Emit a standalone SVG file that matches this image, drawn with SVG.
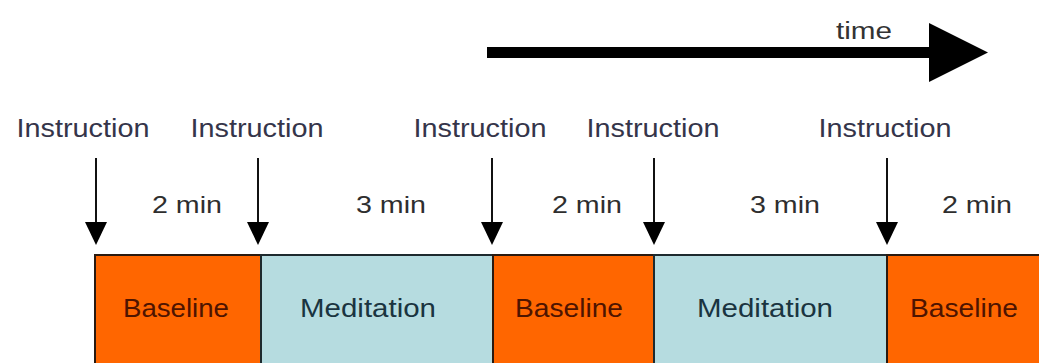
<svg xmlns="http://www.w3.org/2000/svg" width="1039" height="363" viewBox="0 0 1039 363">
  <style>
    text { font-family: "Liberation Sans", Arial, sans-serif; text-anchor: middle; }
    .instr { font-size: 25px; fill: #35354a; }
    .dur { font-size: 24px; fill: #2e2e2e; }
    .lbl { font-size: 25px; }
    .base rect { fill: #FF6600; stroke: #2a1a10; stroke-width: 2; }
    .med rect { fill: #B6DCE0; stroke: #1e2a2e; stroke-width: 2; }
    .base text { fill: #4e1400; }
    .med text { fill: #1a3440; }
    .down { stroke: #111111; stroke-width: 2; fill: none; marker-end: url(#dhead); }
  </style>
  <defs>
    <marker id="dhead" markerUnits="userSpaceOnUse" markerWidth="23" markerHeight="22" viewBox="0 0 23 22" refX="0" refY="11" orient="auto">
      <path d="M0,0 L23,11 L0,22 z" fill="#000000"/>
    </marker>
    <marker id="thead" markerUnits="userSpaceOnUse" markerWidth="59" markerHeight="59" viewBox="0 0 59 59" refX="0" refY="29.5" orient="auto">
      <path d="M0,0 L59,29.5 L0,59 z" fill="#000000"/>
    </marker>
  </defs>
  <rect x="0" y="0" width="1039" height="363" fill="#ffffff"/>

  <g id="time-axis">
    <line x1="487" y1="52.5" x2="929" y2="52.5" stroke="#000000" stroke-width="11" marker-end="url(#thead)"/>
    <text x="864" y="39" style="font-size:23px; fill:#333333" textLength="56" lengthAdjust="spacingAndGlyphs">time</text>
  </g>

  <g id="instructions">
    <text class="instr" x="83" y="137" textLength="133" lengthAdjust="spacingAndGlyphs">Instruction</text>
    <text class="instr" x="257" y="137" textLength="133" lengthAdjust="spacingAndGlyphs">Instruction</text>
    <text class="instr" x="480" y="137" textLength="133" lengthAdjust="spacingAndGlyphs">Instruction</text>
    <text class="instr" x="653" y="137" textLength="133" lengthAdjust="spacingAndGlyphs">Instruction</text>
    <text class="instr" x="885" y="137" textLength="133" lengthAdjust="spacingAndGlyphs">Instruction</text>
  </g>

  <g id="durations">
    <text class="dur" x="187" y="213" textLength="70" lengthAdjust="spacingAndGlyphs">2 min</text>
    <text class="dur" x="391" y="213" textLength="70" lengthAdjust="spacingAndGlyphs">3 min</text>
    <text class="dur" x="587" y="213" textLength="70" lengthAdjust="spacingAndGlyphs">2 min</text>
    <text class="dur" x="785" y="213" textLength="70" lengthAdjust="spacingAndGlyphs">3 min</text>
    <text class="dur" x="977" y="213" textLength="70" lengthAdjust="spacingAndGlyphs">2 min</text>
  </g>

  <g id="phase1" class="base">
    <rect x="95" y="255" width="166" height="120"/>
    <text class="lbl" x="176" y="317" textLength="106" lengthAdjust="spacingAndGlyphs">Baseline</text>
  </g>
  <g id="phase2" class="med">
    <rect x="261" y="255" width="232" height="120"/>
    <text class="lbl" x="368" y="317" textLength="136" lengthAdjust="spacingAndGlyphs">Meditation</text>
  </g>
  <g id="phase3" class="base">
    <rect x="493" y="255" width="161" height="120"/>
    <text class="lbl" x="569" y="317" textLength="108" lengthAdjust="spacingAndGlyphs">Baseline</text>
  </g>
  <g id="phase4" class="med">
    <rect x="654" y="255" width="233" height="120"/>
    <text class="lbl" x="765" y="317" textLength="136" lengthAdjust="spacingAndGlyphs">Meditation</text>
  </g>
  <g id="phase5" class="base">
    <rect x="887" y="255" width="170" height="120"/>
    <text class="lbl" x="964" y="317" textLength="108" lengthAdjust="spacingAndGlyphs">Baseline</text>
  </g>

  <g id="connectors">
    <line class="down" x1="96" y1="158" x2="96" y2="222"/>
    <line class="down" x1="258" y1="158" x2="258" y2="222"/>
    <line class="down" x1="492" y1="158" x2="492" y2="222"/>
    <line class="down" x1="654" y1="158" x2="654" y2="222"/>
    <line class="down" x1="887" y1="158" x2="887" y2="222"/>
  </g>
</svg>
